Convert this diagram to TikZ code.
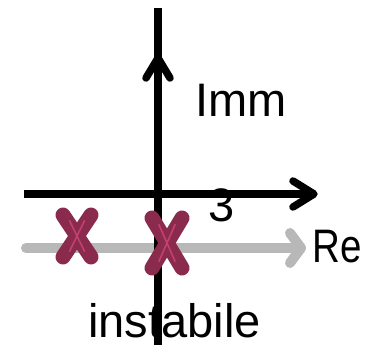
\documentclass[tikz,border=0pt]{standalone}
\usepackage{fontspec}
\setmainfont{Liberation Sans}
\usetikzlibrary{calc}
\definecolor{maroon}{HTML}{8A2A4C}
\definecolor{pinkline}{HTML}{C2416F}
\definecolor{greyarrow}{HTML}{B8B8B8}
\tikzset{
  axis/.style={line width=7.5pt, black},
  shaft/.style={line width=7.5pt, black, line cap=round, line join=round},
  ghost/.style={line width=10pt, greyarrow, line cap=round, line join=round},
  lbl/.style={anchor=base west, inner sep=0pt, font=\fontsize{47}{56}\selectfont},
  crossbar/.style={line width=15pt, maroon, line cap=round},
  crossline/.style={line width=1.6pt, pinkline},
}
\begin{document}
\begin{tikzpicture}[x=1pt,y=-1pt]
\useasboundingbox (0,0) rectangle (368,345);
% gray arrow
\coordinate (g0) at (26,248);
\coordinate (g1) at (301,248);
\draw[ghost] (g0) -- (g1);
\draw[ghost] (290,233) -- (g1) -- (290,263);
% vertical axis
\coordinate (vt) at (158,8);
\coordinate (vb) at (158,345);
\coordinate (vh) at (158,58);
\draw[axis] (vt) -- (vb);
\draw[shaft] (146,78) -- (vh) -- (170,78);
% horizontal axis
\coordinate (hl) at (24,194);
\coordinate (hr) at (314,194);
\draw[axis] (hl) -- (hr);
\draw[shaft] (293,181) -- (hr) -- (293,207);
% crosses
\foreach \n/\cx/\cy/\w/\h in {c1/77/236/14/21, c2/167/243/15/25}{
  \coordinate (\n) at (\cx,\cy);
  \draw[crossbar] ($(\n)+(-\w,-\h)$) -- ($(\n)+(\w,\h)$);
  \draw[crossbar] ($(\n)+(\w,-\h)$) -- ($(\n)+(-\w,\h)$);
  \draw[crossline] ($(\n)+(-\w*0.55,-\h*0.75)$) -- ($(\n)+(\w*0.55,\h*0.75)$);
  \draw[crossline] ($(\n)+(\w*0.55,-\h*0.75)$) -- ($(\n)+(-\w*0.55,\h*0.75)$);
}
% labels
\node[lbl] (imm) at (195,117) {Imm};
\node[lbl] (three) at (208,222) {3};
\node[lbl] (re) at (312,263) {\scalebox{0.82}[1]{Re}};
\node[lbl] (inst) at (88,338) {instabile};
\end{tikzpicture}
\end{document}
